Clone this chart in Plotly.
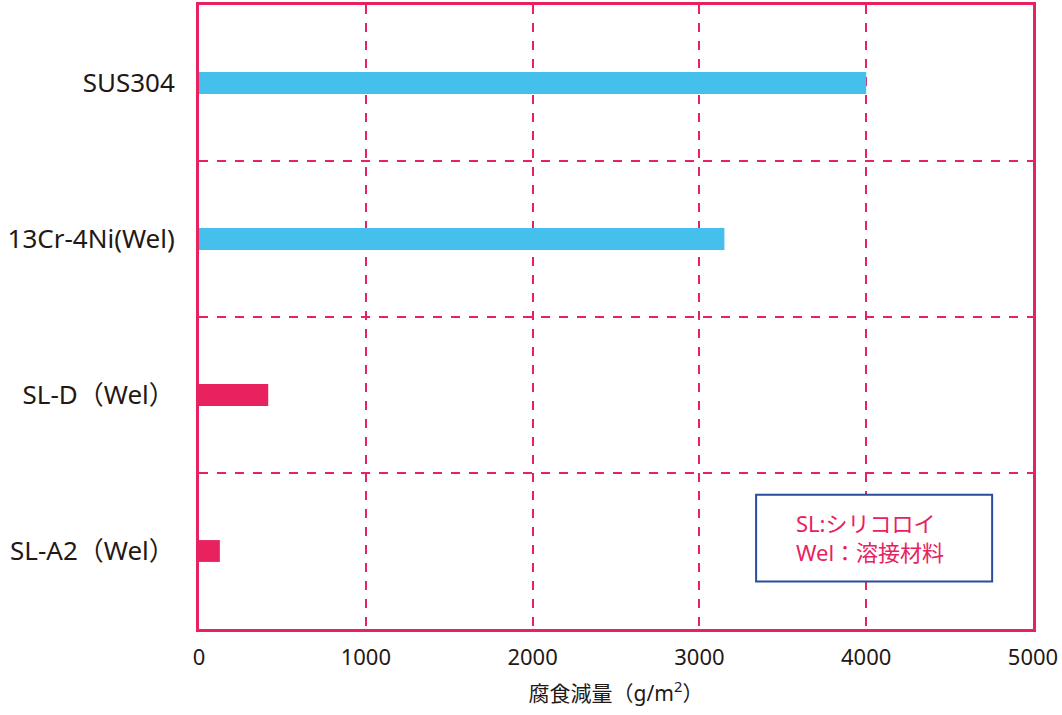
import plotly.graph_objects as go

categories = ["SUS304", "13Cr-4Ni(Wel)", "SL-D（Wel）", "SL-A2（Wel）"]
values = [4000, 3150, 415, 125]
colors = ["#45BFEC", "#45BFEC", "#E8215F", "#E8215F"]
x_ticks = [0, 1000, 2000, 3000, 4000, 5000]

PINK = "#E8215F"
FONT = "Noto Sans, Noto Sans CJK JP, sans-serif"

fig = go.Figure()
fig.add_trace(go.Bar(
    x=values, y=categories, orientation="h",
    marker=dict(color=colors, line=dict(width=0)),
    width=0.14,
))

fig.update_layout(
    width=1062, height=715,
    margin=dict(l=199, r=29, t=2, b=86),
    plot_bgcolor="white", paper_bgcolor="white",
    showlegend=False,
    font=dict(family=FONT, color="#231815"),
    xaxis=dict(
        range=[0, 5000], tickvals=x_ticks, ticktext=[str(v) for v in x_ticks],
        showgrid=True, gridcolor=PINK, griddash="dash", gridwidth=1.5,
        showline=True, linecolor=PINK, linewidth=3, mirror=True,
        zeroline=False, ticks="", ticklabelstandoff=7,
        tickfont=dict(size=22, family=FONT),
        title=dict(text="腐食減量（g/m<sup>2</sup>）", font=dict(size=21, family=FONT), standoff=16),
    ),
    yaxis=dict(
        type="category", categoryorder="array", categoryarray=categories[::-1],
        range=[-0.5, 3.5], tickson="boundaries",
        showgrid=True, gridcolor=PINK, griddash="dash", gridwidth=1.5,
        showline=True, linecolor=PINK, linewidth=3, mirror=True,
        zeroline=False, ticks="", ticklabelstandoff=16,
        tickfont=dict(size=26, family=FONT),
    ),
)

fig.add_shape(type="rect", xref="paper", yref="paper",
              x0=0.668, x1=0.951, y0=0.076, y1=0.215,
              line=dict(color="#2B4C9B", width=2), fillcolor="white")
fig.add_annotation(xref="paper", yref="paper", x=0.713, y=0.146,
                   xanchor="left", yanchor="middle", align="left",
                   text="SL:シリコロイ<br>Wel：溶接材料", showarrow=False,
                   font=dict(size=22, color=PINK, family=FONT))

fig.write_html("out.html", config={"displayModeBar": False},
               post_script="document.body.style.margin='0';")
